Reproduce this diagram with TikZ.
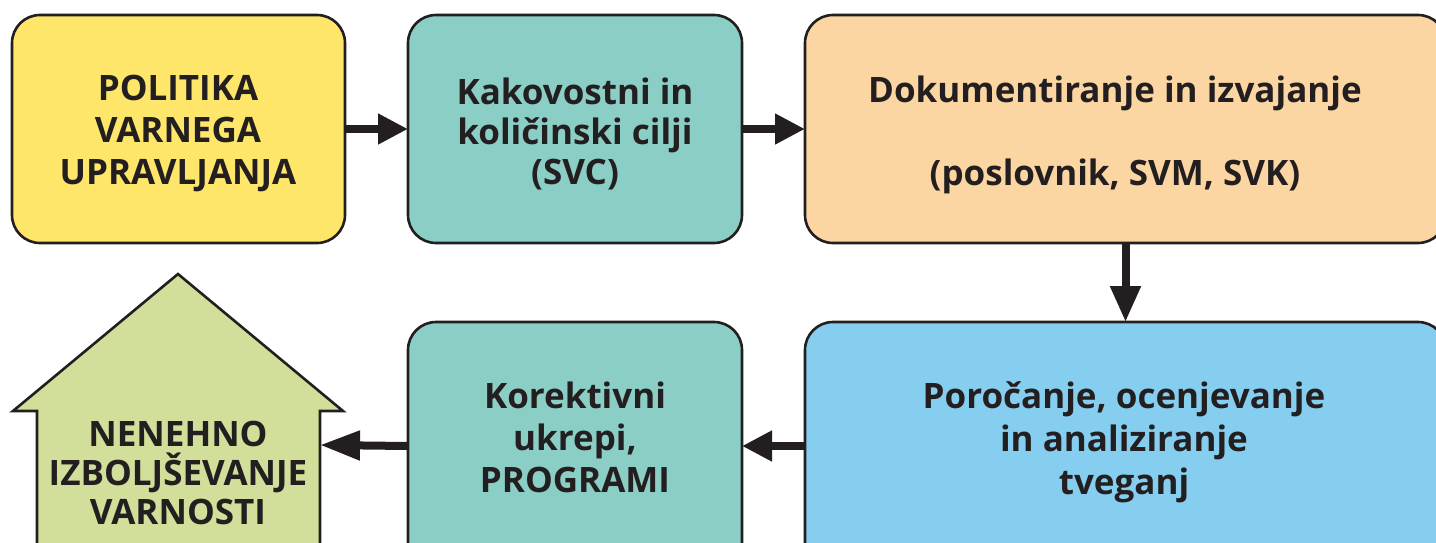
\documentclass[tikz,border=0pt]{standalone}
\usepackage{fontspec}
\setmainfont{Open Sans}[BoldFont={* Bold}]
\usetikzlibrary{arrows.meta}
\definecolor{cyellow}{HTML}{FEE66A}
\definecolor{cteal}{HTML}{8BCEC6}
\definecolor{corange}{HTML}{FBD6A3}
\definecolor{cblue}{HTML}{86CEEF}
\definecolor{cgreen}{HTML}{D1DF9B}
\definecolor{ink}{HTML}{231F20}
\tikzset{
  box/.style={draw=ink, line width=2.6pt, rounded corners=28pt, inner sep=0pt, outer sep=0pt},
  lbl/.style={text=ink, align=center, inner sep=0pt, font=\fontsize{35}{42}\selectfont\bfseries},
  conn/.style={draw=ink, line width=8pt, -{Triangle[length=30pt,width=29pt]}},
}
\begin{document}
\begin{tikzpicture}[x=1pt,y=-1pt]
\useasboundingbox (0,0) rectangle (1436,542);
% top row
\node[box, fill=cyellow, minimum width=333pt, minimum height=228pt] (pol) at (178.5,129) {};
\node[box, fill=cteal, minimum width=334pt, minimum height=228pt] (cilji) at (575,129) {};
\node[box, fill=corange, minimum width=641pt, minimum height=228pt] (dok) at (1125.5,129) {};
% bottom row
\node[box, fill=cblue, minimum width=641pt, minimum height=248pt] (por) at (1125.5,446) {};
\node[box, fill=cteal, minimum width=334pt, minimum height=248pt] (kor) at (575,446) {};
% house
\coordinate (apex) at (178,274);
\coordinate (hwall) at (320,445);
\draw[draw=ink, line width=2.6pt, fill=cgreen, line join=miter]
  (37,600) -- (37,411) -- (13,411) -- (apex) -- (343,411) -- (320,411) -- (320,600);
% labels
\node[lbl] (tpol) at (178,133) {POLITIKA\\VARNEGA\\UPRAVLJANJA};
\node[lbl, font=\fontsize{35}{40}\selectfont\bfseries] (tcilji) at (575,134) {Kakovostni in\\količinski cilji\\(SVC)};
\node[lbl] (tdok) at (1115,135) {Dokumentiranje in izvajanje\\[41pt](poslovnik, SVM, SVK)};
\node[lbl, font=\fontsize{35}{43}\selectfont\bfseries] (tpor) at (1124,442) {Poročanje, ocenjevanje\\in analiziranje\\tveganj};
\node[lbl] (tkor) at (575,437) {Korektivni\\ukrepi,\\PROGRAMI};
\node[lbl, font=\fontsize{35}{39}\selectfont\bfseries] (thouse) at (178,473) {NENEHNO\\IZBOLJŠEVANJE\\VARNOSTI};
% connectors
\draw[conn] (pol.east) -- (cilji.west);
\draw[conn] (cilji.east) -- (dok.west);
\draw[conn, -{Triangle[length=36pt,width=29pt]}] (dok.south) -- (por.north);
\draw[conn] (por.west) -- (kor.east);
\draw[conn, -{Triangle[length=40pt,width=28pt]}] (kor.west) -- (hwall);
\end{tikzpicture}
\end{document}
